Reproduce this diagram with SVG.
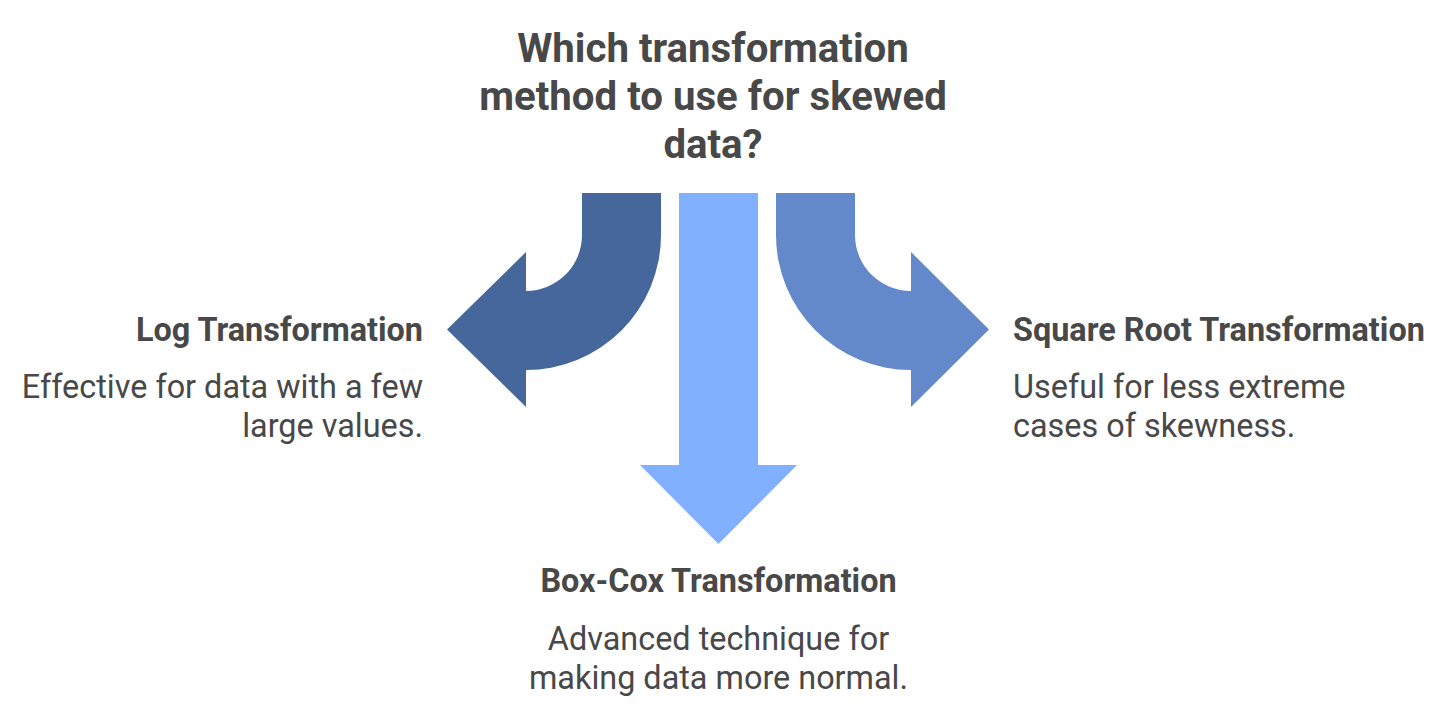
<svg xmlns="http://www.w3.org/2000/svg" width="1456" height="718" viewBox="0 0 1456 718">
<style>
text{font-family:Roboto,"Liberation Sans",sans-serif;fill:#484848}
.title{font-size:40.2px;font-weight:700;text-anchor:middle}
.lbl{font-size:32.4px;font-weight:700}
.desc{font-size:32.4px;font-weight:400}
</style>
<rect width="1456" height="718" fill="#ffffff"/>
<g id="title">
<text class="title" x="713" y="62">Which transformation</text>
<text class="title" x="713" y="110">method to use for skewed</text>
<text class="title" x="713" y="158">data?</text>
</g>
<g id="connectors">
<path id="arrow-log" fill="#46679B" d="M582 193 L661 193 L661 235 A135 135 0 0 1 526 370 L526 407 L447 329.5 L526 252 L526 291 A56 56 0 0 0 582 235 Z"/>
<path id="arrow-boxcox" fill="#80B0FF" d="M679 193 L758 193 L758 465 L797 465 L718.5 544 L640 465 L679 465 Z"/>
<path id="arrow-sqrt" fill="#6389CA" d="M855 193 L776 193 L776 235 A135 135 0 0 0 911 370 L911 407 L989 329.5 L911 252 L911 291 A56 56 0 0 1 855 235 Z"/>
</g>
<g id="node-log" text-anchor="end">
<text class="lbl" x="423" y="341">Log Transformation</text>
<text class="desc" x="423" y="398">Effective for data with a few</text>
<text class="desc" x="423" y="437">large values.</text>
</g>
<g id="node-sqrt">
<text class="lbl" x="1013" y="341">Square Root Transformation</text>
<text class="desc" x="1013" y="398">Useful for less extreme</text>
<text class="desc" x="1013" y="437">cases of skewness.</text>
</g>
<g id="node-boxcox" text-anchor="middle">
<text class="lbl" x="718.5" y="592">Box-Cox Transformation</text>
<text class="desc" x="718.5" y="650">Advanced technique for</text>
<text class="desc" x="718.5" y="689">making data more normal.</text>
</g>
</svg>
